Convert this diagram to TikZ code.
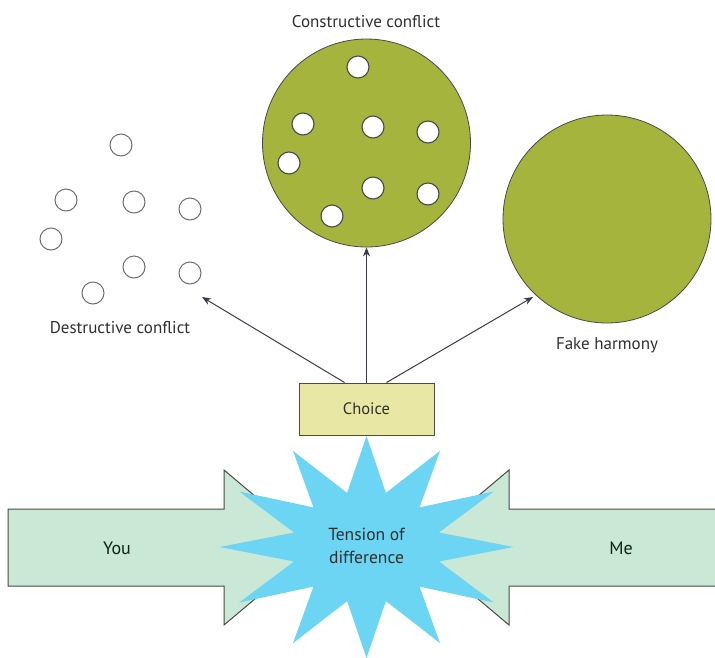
\documentclass[tikz,border=0pt]{standalone}
\usepackage{fontspec}
\setmainfont{PT Sans}
\usetikzlibrary{arrows.meta}

\definecolor{leaf}{HTML}{A4B43C}
\definecolor{burst}{HTML}{6CD5F3}
\definecolor{mint}{HTML}{C9E9D6}
\definecolor{straw}{HTML}{E8E8A4}
\definecolor{edge}{HTML}{4A4A4A}
\definecolor{ink}{HTML}{2F2F2F}
\definecolor{linkc}{HTML}{3A3A4A}

\begin{document}
\begin{tikzpicture}[x=1pt,y=-1pt,
  caption/.style={font=\fontsize{17}{20}\selectfont, text=ink, inner sep=0pt},
  dot/.style={circle, draw=edge, line width=1.1pt, fill=white, minimum size=22pt, inner sep=0pt},
  hollow/.style={circle, draw=edge!80, line width=1pt, fill=white, minimum size=22pt, inner sep=0pt},
  ball/.style={circle, draw=edge, line width=0.8pt, fill=leaf, minimum size=208pt, inner sep=0pt},
  link/.style={draw=linkc, line width=1pt, -{Stealth[length=9pt,width=7pt]}},
  push/.style={draw=edge, line width=1pt, fill=mint, line join=miter},
  choicebox/.style={draw=edge, line width=1pt, fill=straw, minimum width=135pt, minimum height=52pt, inner sep=0pt}
]
\path[use as bounding box] (0,0) rectangle (715,657);
\clip (0,0) rectangle (715,657);

% scattered circles: destructive conflict
\foreach \p [count=\i] in {(121,145),(66,200),(134,202),(190,209),(51,239),(134,267),(190,273),(93,293)}
  \node[hollow] (d\i) at \p {};
\node[caption] (dlabel) at (120,328) {Destructive conflict};

% circle with dots: constructive conflict
\node[ball] (cons) at (366.5,143) {};
\foreach \p [count=\i] in {(358,67),(303,124),(373,127),(428,132),(289,163),(373,188),(428,194),(332,216)}
  \node[dot] (c\i) at \p {};
\node[caption] (clabel) at (366,22) {Constructive conflict};

% plain circle: fake harmony
\node[ball] (fake) at (607,219) {};
\node[caption] (flabel) at (607,345) {Fake harmony};

% the two opposing arrows
\path[push] (8,509) -- (224,509) -- (224,470) -- (316,547.5) -- (224,625) -- (224,586) -- (8,586) -- cycle;
\path[push] (726,509) -- (509,509) -- (509,470) -- (417,547.5) -- (509,625) -- (509,586) -- (726,586) -- cycle;
\node[caption, font=\fontsize{18}{20}\selectfont, text=ink!80!green!40!black] (you) at (117,548) {You};
\node[caption, font=\fontsize{18}{20}\selectfont, text=ink!80!green!40!black] (me) at (621,548) {Me};

% twelve-pointed burst
\begin{scope}[shift={(366.5,547)}]
  \fill[burst] (0:147 and 111)
    \foreach \a [evaluate=\a as \b using \a+15] in {15,45,...,345} { -- (\a:75 and 56) -- (\b:147 and 111) } -- cycle;
\end{scope}
\node[caption, align=center, font=\fontsize{17.5}{23}\selectfont] (tension) at (366.5,546) {Tension of\\difference};

% choice and its outcomes
\node[choicebox, caption, font=\fontsize{16.5}{19}\selectfont] (choice) at (366.5,409) {Choice};
\coordinate (dtip) at (202,297);
\coordinate (ftip) at (533,297);
\draw[link] ([xshift=-22pt]choice.north) -- (dtip);
\draw[link] (choice.north) -- (cons.south);
\draw[link] ([xshift=20pt]choice.north) -- (ftip);
\end{tikzpicture}
\end{document}
